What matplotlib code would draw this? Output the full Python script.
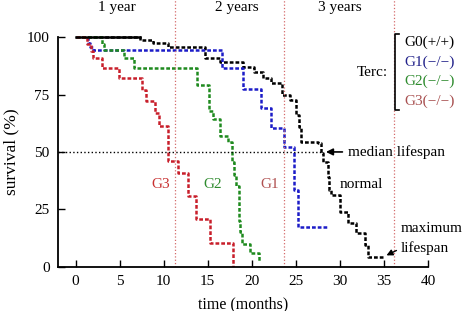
import numpy as np
import matplotlib
matplotlib.use("Agg")
import matplotlib.pyplot as plt

plt.rcParams['font.family'] = ['Liberation Serif', 'DejaVu Serif']
plt.rcParams['font.size'] = 11

# survival curves (time in months, survival in %), step after each time
g0_t = [0, 7.3, 8.8, 10.5, 14.7, 16.4, 19.0, 20.3, 21.3, 22.2, 23.4, 24.3, 25.0,
        25.4, 25.6, 27.5, 27.9, 28.1, 28.6, 28.8, 29.0, 30.0, 30.9, 31.8, 32.8, 33.2, 35.1]
g0_s = [100, 98.9, 97.6, 95.8, 90.8, 89, 87.1, 84.9, 82.1, 79.9, 74.8, 72.6, 66.1,
        61, 54.4, 53.7, 49.4, 45.7, 39.2, 33.4, 31.2, 24, 18.9, 14.5, 9.5, 4.4, 4.4]

g1_t = [0, 1.4, 1.6, 2.0, 16.6, 19.0, 21.0, 22.2, 23.7, 24.8, 25.2, 28.6]
g1_s = [100, 97.5, 95.6, 94.4, 86.5, 77.5, 69, 60.5, 52, 33.5, 17.5, 17.5]

g2_t = [0, 3.0, 3.2, 5.5, 6.6, 13.8, 15.1, 15.6, 16.4, 17.3, 17.7, 18.0, 18.2,
        18.5, 18.6, 18.7, 18.9, 19.8, 20.8, 20.8]
g2_s = [100, 97, 94.4, 91, 86.5, 79, 68, 64.5, 57, 54.4, 45.5, 40, 35,
        28, 20, 15, 10, 6, 2, 2]

g3_t = [0, 1.3, 1.7, 2.0, 3.0, 4.9, 7.5, 8.0, 9.0, 9.5, 10.5, 11.6, 12.8, 13.7,
        15.2, 17.9, 17.9]
g3_s = [100, 97, 94, 91, 86.5, 82, 77, 72, 67, 61.5, 46, 41, 31, 21,
        10.5, 0, 0]

year_marks = [11.3, 23.6, 36.1]
year_labels = ['1 year', '2 years', '3 years']
year_label_x = [4.7, 18.3, 30.0]

legend_labels = ['G0(+/+)', 'G1(\u2212/\u2212)', 'G2(\u2212/\u2212)', 'G3(\u2212/\u2212)']
legend_colors = ['black', '#22228a', '#2e8b2e', '#a85050']
curve_colors = ['black', '#1c1cc8', '#1f8a1f', '#c81e2a']

fig = plt.figure(figsize=(4.65, 3.11), dpi=100)
ax = fig.add_axes([58 / 465, 1 - 266.7 / 311, 370 / 465, 266.7 / 311])

dash = (0, (1.5, 0.8))
curves = [(g0_t, g0_s), (g1_t, g1_s), (g2_t, g2_s), (g3_t, g3_s)]
for (t, s), c in zip(curves, curve_colors):
    ax.step(t, s, where='post', color=c, lw=1.8, linestyle=dash)
# the long flat start of the normal curve looks solid
ax.plot(g0_t[:2], [g0_s[0]] * 2, color='black', lw=1.8)

for xm in year_marks:
    ax.axvline(xm, color='#d46a6a', lw=0.9, linestyle=':')
for xl, lab in zip(year_label_x, year_labels):
    ax.text(xl, 112.8, lab, ha='center', va='center')

# median line and arrows
ax.plot([-2, 28.0], [50, 50], color='black', lw=1.0, linestyle=':')
ax.annotate('', xy=(28.1, 50), xytext=(30.6, 50),
            arrowprops=dict(arrowstyle='-|>', color='black', lw=1.2, mutation_scale=10))
ax.text(30.9, 50, 'median lifespan', va='center', ha='left')
ax.annotate('', xy=(35.0, 4.4), xytext=(36.7, 7.6),
            arrowprops=dict(arrowstyle='-|>', color='black', lw=1.0, mutation_scale=9))
ax.text(36.9, 16.5, 'maximum', va='center', ha='left')
ax.text(36.9, 8.2, 'lifespan', va='center', ha='left')

ax.text(9.6, 36, 'G3', color='#c83030', ha='center', va='center')
ax.text(15.6, 36, 'G2', color='#2e8b2e', ha='center', va='center')
ax.text(22.0, 36, 'G1', color='#b05050', ha='center', va='center')
ax.text(32.4, 36, 'normal', ha='center', va='center')

# legend with bracket
ax.text(35.5, 84.8, 'Terc:', ha='right', va='center')
ax.plot([36.7, 36.3, 36.3, 36.7], [101.6, 101.6, 68.2, 68.2], color='black', lw=1.2,
        clip_on=False)
for i, (lab, c) in enumerate(zip(legend_labels, legend_colors)):
    ax.text(37.3, 97.6 - i * 8.5, lab, color=c, ha='left', va='center')

ax.set_xlim(-2, 40)
ax.set_ylim(0, 116.2)
ax.set_xticks([0, 5, 10, 15, 20, 25, 30, 35, 40])
ax.set_yticks([0, 25, 50, 75, 100])
ax.spines['top'].set_visible(False)
ax.spines['right'].set_visible(False)
ax.spines['left'].set_bounds(0, 100)
for sp in ['left', 'bottom']:
    ax.spines[sp].set_linewidth(1.3)
ax.tick_params(direction='in', length=5, width=1, pad=6, labelsize=11)
ax.set_xlabel('time (months)', labelpad=6, fontsize=11.5)
ax.set_ylabel('survival (%)', fontsize=12.5)
# centre the y label on the 0-100 span, like the bounded spine
ax.yaxis.set_label_coords((19 - 58) / 370, 50 / 116.2)

fig.savefig('out.png', dpi=100)
